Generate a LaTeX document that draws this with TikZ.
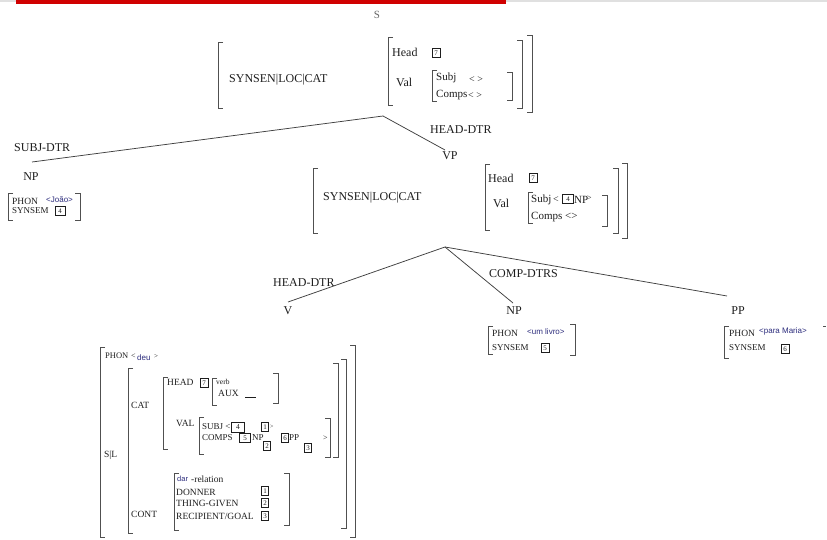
\documentclass[tikz,border=0pt]{standalone}
\usepackage{fontspec}
\setmainfont{Liberation Serif}
\setsansfont{Liberation Sans}
\definecolor{barred}{RGB}{208,0,0}
\definecolor{navy}{RGB}{45,45,125}
\definecolor{ink}{RGB}{30,30,30}
\definecolor{brk}{RGB}{80,80,80}
\newcommand{\LBrk}[3]{\draw[brkline] (#1+5,#2) -- (#1,#2) -- (#1,#3) -- (#1+5,#3);}
\newcommand{\RBrk}[3]{\draw[brkline] (#1-5,#2) -- (#1,#2) -- (#1,#3) -- (#1-5,#3);}
\begin{document}
\begin{tikzpicture}[x=1pt,y=-1pt,
 T/.style={anchor=west,inner sep=0pt,text=ink,font=\fontsize{12}{12}\selectfont},
 Tm/.style={anchor=west,inner sep=0pt,text=ink,font=\fontsize{9.5}{9.5}\selectfont},
 Ts/.style={anchor=west,inner sep=0pt,text=navy,font=\sffamily\fontsize{8}{8}\selectfont},
 lab/.style={inner sep=0pt,text=ink,font=\fontsize{12}{12}\selectfont},
 tagb/.style={draw=ink,line width=0.6pt,inner sep=0pt,minimum width=8pt,minimum height=9pt,text=ink,font=\fontsize{7}{7}\selectfont},
 brkline/.style={draw=brk,line width=0.75pt},
 edge/.style={draw=black!75,line width=0.75pt}]
\useasboundingbox (0,0) rectangle (827,540);
\fill[white] (0,0) rectangle (827,540);
% top strip
\fill[black!12] (0,0) rectangle (827,2);
\fill[barred] (16,0) rectangle (506,4);

% ===== S =====
\node[lab,text=black!60,font=\fontsize{11}{11}\selectfont] (S) at (377,15) {S};
\LBrk{218}{42}{108}
\node[T] (sSyn) at (229,80) {SYNSEN|LOC|CAT};
\LBrk{388}{37}{105}
\node[T] (sHead) at (392,52) {Head};
\node[tagb] (sTag7) at (436,53) {7};
\node[T] (sVal) at (396,82) {Val};
\LBrk{432}{70}{101}
\node[T,font=\fontsize{11}{11}\selectfont] (sSubj) at (436,78) {Subj};
\node[T,font=\fontsize{10}{10}\selectfont] (sSubjV) at (469,80) {< >};
\node[T,font=\fontsize{11}{11}\selectfont] (sComps) at (436,95) {Comps};
\node[T,font=\fontsize{10}{10}\selectfont] (sCompsV) at (468,96) {< >};
\RBrk{512}{72}{100}
\RBrk{522}{40}{108}
\RBrk{532}{35}{112}

% tree under S
\coordinate (sApex) at (383,116);
\coordinate (subjEnd) at (32,162);
\coordinate (vpEnd) at (445,150);
\draw[edge] (sApex) -- (subjEnd);
\draw[edge] (sApex) -- (vpEnd);
\node[T] (subjDtr) at (14,148) {SUBJ-DTR};
\node[T] (headDtrA) at (430,130) {HEAD-DTR};
\node[lab] (VP) at (450,156) {VP};

% ===== NP João =====
\node[lab] (npA) at (31,177) {NP};
\LBrk{8}{193}{220}
\node[T,font=\fontsize{9.5}{9.5}\selectfont] (npAPhon) at (12,201) {PHON};
\node[Ts] (npAJoao) at (46,200) {<João>};
\node[T,font=\fontsize{9}{9}\selectfont] (npASyn) at (12,211) {SYNSEM};
\node[tagb,minimum width=10pt] (npATag4) at (60,211) {4};
\RBrk{80}{193}{220}

% ===== VP AVM =====
\LBrk{313}{168}{233}
\node[T] (vpSyn) at (323,198) {SYNSEN|LOC|CAT};
\LBrk{485}{164}{230}
\node[T] (vpHead) at (488,178) {Head};
\node[tagb] (vpTag7) at (533,178) {7};
\node[T] (vpVal) at (493,203) {Val};
\LBrk{528}{192}{223}
\node[T,font=\fontsize{11}{11}\selectfont] (vpSubj) at (531,200) {Subj};
\node[T,font=\fontsize{10}{10}\selectfont] (vpLt) at (553,200) {<};
\node[tagb,minimum width=11pt] (vpTag4) at (568,199) {4};
\node[T,font=\fontsize{11}{11}\selectfont] (vpNP) at (574,200) {NP};
\node[T,font=\fontsize{8}{8}\selectfont] (vpGt) at (587,198) {>};
\node[T,font=\fontsize{11}{11}\selectfont] (vpComps) at (531,217) {Comps <>};
\RBrk{607}{195}{226}
\RBrk{618}{168}{233}
\RBrk{627}{163}{238}

% tree under VP
\coordinate (vpApex) at (445,247);
\coordinate (vEnd) at (288,302);
\coordinate (npEnd) at (513,303);
\coordinate (ppEnd) at (727,296);
\draw[edge] (vpApex) -- (vEnd);
\draw[edge] (vpApex) -- (npEnd);
\draw[edge] (vpApex) -- (ppEnd);
\node[T] (headDtrB) at (273,283) {HEAD-DTR};
\node[T] (compDtrs) at (489,274) {COMP-DTRS};
\node[lab] (V) at (288,311) {V};
\node[lab] (npB) at (514,311) {NP};
\node[lab] (PP) at (738,311) {PP};

% ===== NP um livro =====
\LBrk{488}{326}{354}
\node[T,font=\fontsize{9.5}{9.5}\selectfont] (npBPhon) at (492,333) {PHON};
\node[Ts] (npBLivro) at (527,332) {<um livro>};
\node[T,font=\fontsize{9}{9}\selectfont] (npBSyn) at (492,348) {SYNSEM};
\node[tagb] (npBTag5) at (545,348) {5};
\RBrk{575}{324}{355}

% ===== PP para Maria =====
\LBrk{724}{326}{358}
\node[T,font=\fontsize{9.5}{9.5}\selectfont] (ppPhon) at (729,333) {PHON};
\node[Ts] (ppMaria) at (759,331) {<para Maria>};
\node[T,font=\fontsize{9}{9}\selectfont] (ppSyn) at (729,348) {SYNSEM};
\node[tagb] (ppTag6) at (785,349) {6};
\draw[brkline] (823,326) -- (826,326);

% ===== V AVM =====
\LBrk{100}{347}{537}
\node[Tm,font=\fontsize{8.5}{8.5}\selectfont] (vPhon) at (105,356) {PHON};
\node[Tm,font=\fontsize{8}{8}\selectfont] (vLt) at (131,356) {<};
\node[Ts] (vDeu) at (137,358) {deu};
\node[Tm,font=\fontsize{7}{7}\selectfont] (vGt) at (154,356) {>};
\LBrk{128}{368}{533}
\node[Tm] (vSL) at (104,455) {S|L};
\node[Tm] (vCat) at (131,405) {CAT};
\LBrk{163}{377}{449}
\node[Tm] (vHead) at (167,382) {HEAD};
\node[tagb] (vTag7) at (204,383) {7};
\LBrk{212}{378}{405}
\node[Tm,font=\fontsize{7.5}{7.5}\selectfont] (vVerb) at (216,382) {verb};
\node[Tm,font=\fontsize{9.5}{9.5}\selectfont] (vAux) at (218,393) {AUX};
\coordinate (auxA) at (245,397);
\coordinate (auxB) at (256,397);
\draw[ink,line width=0.6pt] (auxA) -- (auxB);
\RBrk{278}{373}{403}
\node[Tm] (vVal) at (176,423) {VAL};
\LBrk{199}{417}{454}
\node[Tm,font=\fontsize{9}{9}\selectfont] (vSubj) at (202,427) {SUBJ <};
\node[tagb,minimum width=13pt,minimum height=10pt,font=\fontsize{7.5}{7.5}\selectfont] (vTag4) at (238,427) {4};
\node[tagb,minimum width=7pt] (vTag1a) at (265,427) {1};
\node[Tm,font=\fontsize{6}{6}\selectfont] (vSubjGt) at (270,427) {>};
\node[Tm,font=\fontsize{9}{9}\selectfont] (vComps) at (202,438) {COMPS};
\node[tagb,minimum width=11pt] (vTag5) at (245,438) {5};
\node[Tm,font=\fontsize{9}{9}\selectfont] (vNP) at (252,438) {NP};
\node[tagb,minimum width=7pt] (vTag2a) at (267,446) {2};
\node[tagb,minimum width=7pt] (vTag6) at (285,438) {6};
\node[Tm,font=\fontsize{9}{9}\selectfont] (vPP) at (289,438) {PP};
\node[tagb,minimum width=7pt] (vTag3a) at (308,448) {3};
\node[Tm,font=\fontsize{8}{8}\selectfont] (vCompsGt) at (323,438) {>};
\RBrk{330}{418}{457}
\RBrk{338}{363}{457}
\RBrk{346}{359}{528}
\RBrk{355}{345}{537}
\node[Tm] (vCont) at (131,514) {CONT};
\LBrk{174}{473}{530}
\RBrk{289}{473}{525}
\node[Ts,font=\sffamily\fontsize{7.5}{7.5}\selectfont] (vDar) at (177,479) {dar};
\node[Tm,font=\fontsize{9.5}{9.5}\selectfont] (vRel) at (191,479) {-relation};
\node[Tm,font=\fontsize{9.5}{9.5}\selectfont] (vDonner) at (176,492) {DONNER};
\node[tagb,minimum width=7pt] (vTag1b) at (265,491) {1};
\node[Tm,font=\fontsize{9.5}{9.5}\selectfont] (vThing) at (176,503) {THING-GIVEN};
\node[tagb,minimum width=7pt] (vTag2b) at (265,503) {2};
\node[Tm,font=\fontsize{9.5}{9.5}\selectfont] (vRecip) at (176,516) {RECIPIENT/GOAL};
\node[tagb,minimum width=7pt] (vTag3b) at (265,516) {3};
\end{tikzpicture}
\end{document}
